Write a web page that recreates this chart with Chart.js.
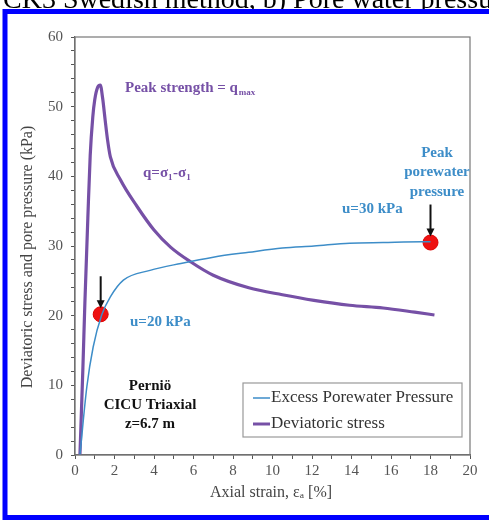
<!DOCTYPE html>
<html>
<head>
<meta charset="utf-8">
<script src="https://cdn.jsdelivr.net/npm/chart.js@4"></script>
<style>
  html, body { margin: 0; padding: 0; background: #fff; }
  #wrap { position: relative; width: 489px; height: 522px; }
</style>
</head>
<body>
<div id="wrap"><canvas id="chart" width="489" height="522"></canvas></div>
<script>
// ---- Data ----
const strainQ   = [0.25, 0.4, 0.5, 0.65, 0.77, 0.9, 1.0, 1.15, 1.28, 1.4, 1.53, 1.65, 1.79, 2.3, 3.16, 4.0, 4.85, 5.87, 7.0, 8.8, 10.5, 12.1, 13.9, 15.6, 17.2, 18.2];
const devStress = [0, 12.5, 21.8, 34, 43, 48.5, 51, 52.8, 53.1, 51.2, 48, 45.2, 42.8, 39.5, 35.6, 32.3, 29.8, 27.7, 25.8, 24, 23, 22.2, 21.5, 21.1, 20.5, 20.1];

const strainU = [0.25, 0.6, 0.92, 1.35, 1.79, 2.45, 3.8, 5.36, 7.0, 8.8, 10.5, 12.1, 13.9, 15.6, 17.6, 18.0];
const poreU   = [0, 9.8, 15.5, 20.1, 22.7, 25.1, 26.5, 27.5, 28.4, 29.1, 29.7, 30.0, 30.4, 30.5, 30.6, 30.6];

const markX = [1.3, 18.0];
const markY = [20.2, 30.5];

const xTicks = { min: 0, max: 20, step: 1 };
const yTicks = { min: 0, max: 60, step: 2 };

const BLUE = '#3d8dc8';
const PURPLE = '#7650a6';
const SERIF = '"Liberation Serif", "DejaVu Serif", serif';

const toXY = (xs, ys) => xs.map((x, i) => ({ x: x, y: ys[i] }));

function measure(c, s, size) {
    c.font = 'bold ' + size + 'px ' + SERIF;
    return c.measureText(s).width;
}

// ---- Decorations: frame, clipped caption, plot box, titles, notes, legend ----
const decor = {
    id: 'decor',
    beforeDraw(chart) {
        const c = chart.ctx;
        c.save();
        c.fillStyle = '#000';
        c.font = '28px ' + SERIF;
        c.textBaseline = 'alphabetic';
        c.fillText('CK3 Swedish method, b) Pore water pressure', 3, 8);
        c.restore();
    },
    afterDraw(chart) {
        const c = chart.ctx;
        const a = chart.chartArea;
        const sx = chart.scales.x, sy = chart.scales.y;
        c.save();

        // plot box
        c.strokeStyle = '#777';
        c.lineWidth = 1.2;
        c.strokeRect(a.left, a.top, a.right - a.left, a.bottom - a.top);

        // blue frame
        c.strokeStyle = '#0000ff';
        c.lineWidth = 5;
        c.strokeRect(5, 11.5, 520, 506);

        // axis titles
        c.fillStyle = '#444';
        c.font = '16px ' + SERIF;
        c.textAlign = 'center';
        c.textBaseline = 'middle';
        c.fillText('Axial strain, εₐ [%]', 271, 493);
        c.save();
        c.translate(28, 257);
        c.rotate(-Math.PI / 2);
        c.fillText('Deviatoric stress and pore pressure (kPa)', 0, 0);
        c.restore();

        // notes
        const txt = (s, x, y, col, size, align) => {
            c.fillStyle = col;
            c.font = 'bold ' + size + 'px ' + SERIF;
            c.textAlign = align || 'left';
            c.textBaseline = 'middle';
            c.fillText(s, x, y);
        };
        const sub = (s, x, y) => {
            c.font = 'bold 9px ' + SERIF;
            c.textAlign = 'left';
            c.fillText(s, x, y);
        };

        let w = measure(c, 'Peak strength = q', 15);
        txt('Peak strength = q', 125, 88, PURPLE, 15);
        sub('max', 126 + w, 93);

        w = measure(c, 'q=σ', 15);
        const w2 = measure(c, '-σ', 15);
        txt('q=σ', 143, 173, PURPLE, 15);
        sub('1', 143 + w, 178);
        txt('-σ', 143 + w + 5, 173, PURPLE, 15);
        sub('1', 143 + w + 5 + w2, 178);

        txt('Peak', 437, 153, BLUE, 15, 'center');
        txt('porewater', 437, 172, BLUE, 15, 'center');
        txt('pressure', 437, 192, BLUE, 15, 'center');
        txt('u=30 kPa', 342, 209, BLUE, 15);
        txt('u=20 kPa', 130, 322, BLUE, 15);

        txt('Perniö', 150, 386, '#111', 15, 'center');
        txt('CICU Triaxial', 150, 405, '#111', 15, 'center');
        txt('z=6.7 m', 150, 424, '#111', 15, 'center');

        // arrows pointing at the marked points
        markX.forEach((v, i) => {
            const px = sx.getPixelForValue(v);
            const py = sy.getPixelForValue(markY[i]) - 6;
            c.strokeStyle = '#111';
            c.fillStyle = '#111';
            c.lineWidth = 2;
            c.beginPath();
            c.moveTo(px, py - 32);
            c.lineTo(px, py - 6);
            c.stroke();
            c.beginPath();
            c.moveTo(px - 4, py - 8);
            c.lineTo(px + 4, py - 8);
            c.lineTo(px, py);
            c.closePath();
            c.fill();
        });

        // legend
        c.strokeStyle = '#999';
        c.lineWidth = 1.2;
        c.fillStyle = '#fff';
        c.fillRect(243, 383, 219, 54);
        c.strokeRect(243, 383, 219, 54);
        const entries = [['Excess Porewater Pressure', BLUE, 1.5, 398], ['Deviatoric stress', PURPLE, 3, 424]];
        entries.forEach(e => {
            c.strokeStyle = e[1];
            c.lineWidth = e[2];
            c.beginPath();
            c.moveTo(253, e[3]);
            c.lineTo(270, e[3]);
            c.stroke();
            c.fillStyle = '#333';
            c.font = '17px ' + SERIF;
            c.textAlign = 'left';
            c.textBaseline = 'middle';
            c.fillText(e[0], 271, e[3]);
        });
        c.restore();
    }
};

new Chart(document.getElementById('chart'), {
    type: 'scatter',
    data: {
        datasets: [
            {
                label: 'Excess Porewater Pressure',
                data: toXY(strainU, poreU),
                showLine: true,
                borderColor: BLUE,
                borderWidth: 1.5,
                pointRadius: 0,
                cubicInterpolationMode: 'monotone'
            },
            {
                label: 'Deviatoric stress',
                data: toXY(strainQ, devStress),
                showLine: true,
                borderColor: PURPLE,
                borderWidth: 3.2,
                pointRadius: 0,
                cubicInterpolationMode: 'monotone'
            },
            {
                label: 'peaks',
                data: toXY(markX, markY),
                showLine: false,
                pointRadius: 7.5,
                pointBackgroundColor: '#ee1111',
                pointBorderColor: '#dd0000',
                pointBorderWidth: 1
            }
        ]
    },
    options: {
        responsive: false,
        animation: false,
        layout: { padding: { left: 0, right: 19, top: 37, bottom: 0 } },
        plugins: {
            legend: { display: false },
            tooltip: { enabled: false }
        },
        scales: {
            x: {
                type: 'linear',
                min: xTicks.min,
                max: xTicks.max,
                afterFit: s => { s.height = 67; },
                grid: { drawOnChartArea: false, tickLength: 4, color: '#555' },
                border: { color: '#666', width: 1.2 },
                ticks: {
                    stepSize: xTicks.step,
                    autoSkip: false,
                    maxRotation: 0,
                    color: '#555',
                    padding: 3,
                    font: { family: SERIF, size: 15 },
                    callback: v => (v % 2 === 0 ? v : '')
                }
            },
            y: {
                min: yTicks.min,
                max: yTicks.max,
                afterFit: s => { s.width = 75; },
                grid: { drawOnChartArea: false, tickLength: 4, color: '#555' },
                border: { color: '#666', width: 1.2 },
                ticks: {
                    stepSize: yTicks.step,
                    autoSkip: false,
                    color: '#555',
                    padding: 8,
                    font: { family: SERIF, size: 15 },
                    callback: v => (v % 10 === 0 ? v : '')
                }
            }
        }
    },
    plugins: [decor]
});
</script>
</body>
</html>
